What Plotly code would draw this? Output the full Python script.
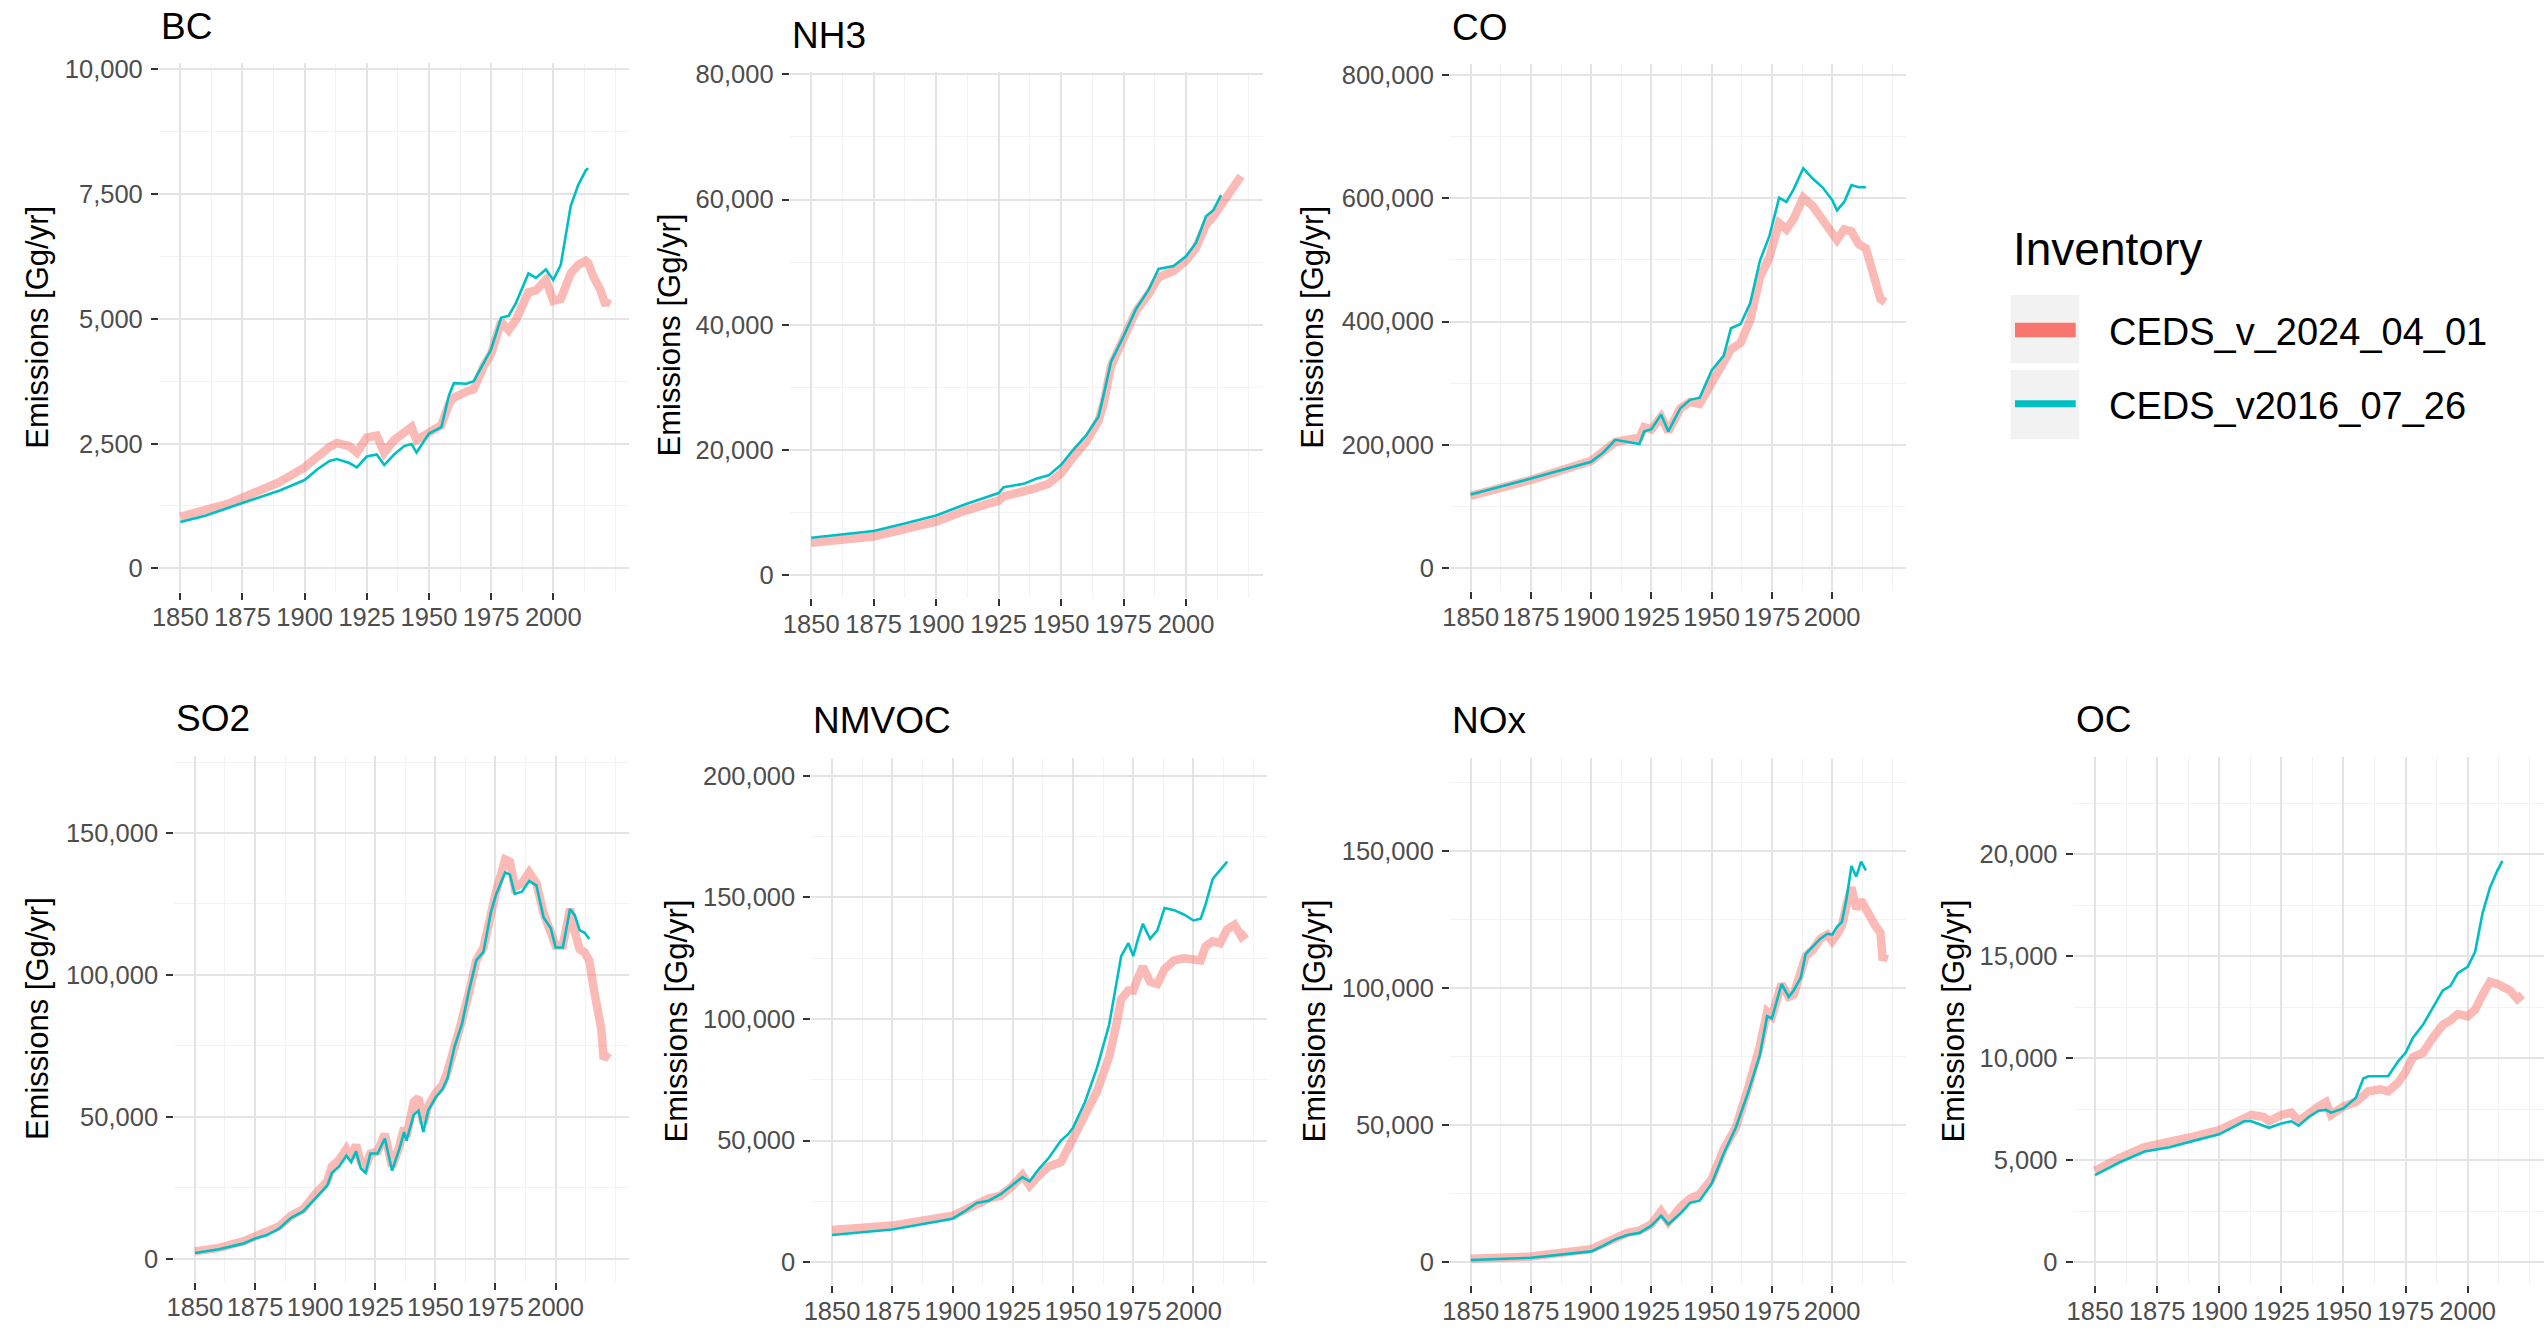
import plotly.graph_objects as go

W, H = 2547, 1333

SERIES = ["CEDS_v_2024_04_01", "CEDS_v2016_07_26"]
LEGEND_TITLE = "Inventory"
Y_TITLE = "Emissions [Gg/yr]"
X_TICKS = [1850, 1875, 1900, 1925, 1950, 1975, 2000]
X_MINOR = [1862.5, 1887.5, 1912.5, 1937.5, 1962.5, 1987.5, 2012.5, 2025]

# ---------------- data ----------------
BC_YEARS = [1850, 1860, 1870, 1880, 1890, 1900, 1905, 1910, 1913, 1918, 1921, 1925, 1929, 1932,
            1936, 1940, 1943, 1945, 1950, 1955, 1958, 1960, 1965, 1968, 1972, 1975, 1979, 1982,
            1985, 1990, 1993, 1997, 2000, 2003, 2007, 2010, 2013, 2014, 2016, 2019, 2021, 2022]
BC_NEW = [1030, 1160, 1310, 1520, 1730, 2025, 2240, 2430, 2510, 2450, 2320, 2620, 2660, 2320,
          2570, 2700, 2830, 2570, 2740, 2870, 3290, 3420, 3540, 3590, 4050, 4300, 4940, 4770,
          4980, 5530, 5570, 5780, 5360, 5400, 5910, 6080, 6160, 6120, 5860, 5570, 5270, 5400]
BC_OLD = [930, 1055, 1225, 1390, 1560, 1770, 1980, 2150, 2190, 2110, 2025, 2240, 2280, 2070,
          2280, 2450, 2490, 2320, 2700, 2830, 3460, 3710, 3700, 3750, 4130, 4390, 5020, 5060,
          5320, 5910, 5820, 5990, 5780, 6080, 7260, 7680, 7970, 8020]
BC_TICKS = [0, 2500, 5000, 7500, 10000]

NH3_YEARS = [1850, 1875, 1887, 1900, 1912, 1925, 1927, 1935, 1940, 1945, 1950, 1955, 1960, 1965,
             1967, 1970, 1975, 1980, 1985, 1989, 1995, 2000, 2004, 2008, 2011, 2014, 2018, 2022]
NH3_NEW = [5180, 6190, 7340, 8550, 10360, 11910, 12580, 13260, 13930, 14600, 16290, 18980, 21330,
           24700, 27390, 33450, 37480, 42190, 44890, 47580, 48590, 50270, 52290, 55990, 57330,
           59020, 61370, 63730]
NH3_OLD = [5990, 7070, 8210, 9560, 11370, 13120, 14060, 14600, 15410, 15950, 17630, 20120, 22340,
           25370, 28730, 34120, 38160, 42530, 45560, 48920, 49390, 50940, 53090, 57330, 58340,
           60700]
NH3_TICKS = [0, 20000, 40000, 60000, 80000]

CO_YEARS = [1850, 1875, 1900, 1905, 1910, 1915, 1920, 1922, 1925, 1929, 1932, 1937, 1941, 1945,
            1950, 1955, 1958, 1962, 1966, 1970, 1974, 1978, 1981, 1984, 1988, 1992, 1996, 2000,
            2002, 2005, 2008, 2011, 2014, 2017, 2020, 2022]
CO_NEW = [117400, 143300, 174100, 187700, 204800, 208200, 211600, 228700, 225300, 245700, 221800,
          259400, 269600, 266200, 300300, 334500, 354900, 365200, 402700, 471000, 505100, 559700,
          549500, 566500, 600700, 587000, 566500, 542700, 532400, 549500, 546100, 525600, 518800,
          477800, 436900, 431400]
CO_OLD = [119500, 145400, 172700, 187700, 208200, 204800, 201400, 221800, 225300, 249100, 221800,
          259400, 273000, 276500, 320800, 344700, 389100, 395900, 430000, 498300, 539200, 600700,
          593900, 614300, 648500, 631400, 617700, 597300, 580200, 593900, 621200, 617700, 617700]
CO_TICKS = [0, 200000, 400000, 600000, 800000]

SO2_YEARS = [1850, 1860, 1870, 1875, 1880, 1885, 1890, 1895, 1900, 1905, 1907, 1910, 1913, 1915,
             1917, 1919, 1921, 1923, 1926, 1929, 1932, 1935, 1937, 1938, 1941, 1943, 1945, 1947,
             1950, 1953, 1955, 1958, 1961, 1964, 1967, 1970, 1973, 1975, 1979, 1981, 1983, 1986,
             1989, 1992, 1995, 1998, 2000, 2003, 2006, 2008, 2010, 2012, 2014, 2016, 2018, 2019,
             2020, 2022]
SO2_NEW = [2570, 3780, 6050, 7860, 9070, 11340, 15120, 17390, 22680, 27220, 32510, 34780, 38560,
           35540, 40070, 34020, 32510, 37050, 37800, 43850, 32510, 39320, 46120, 43100, 55190,
           56700, 47630, 53680, 58220, 61240, 65780, 76360, 83920, 93750, 105090, 109630, 123240,
           128530, 140630, 139870, 130800, 132310, 136090, 132310, 121730, 115680, 110390, 110390,
           123240, 115000, 109000, 108000, 105000, 94510, 83920, 80900, 70310, 72580]
SO2_OLD = [1970, 3330, 5290, 7110, 8300, 10580, 14370, 16630, 21170, 25710, 30240, 32510, 36290,
           34020, 37800, 31750, 30240, 37050, 37050, 42340, 31000, 38560, 44610, 41580, 50660,
           52170, 44610, 52170, 56700, 59730, 63510, 74850, 82410, 94510, 105090, 108120, 121730,
           127770, 136090, 135330, 128530, 129290, 133070, 131560, 120220, 116440, 109630, 109630,
           123240, 120970, 115680, 114920, 112660]
SO2_TICKS = [0, 50000, 100000, 150000]

NMVOC_YEARS = [1850, 1875, 1900, 1905, 1910, 1915, 1920, 1925, 1929, 1932, 1936, 1940, 1945, 1948,
               1950, 1955, 1960, 1965, 1968, 1970, 1973, 1975, 1977, 1979, 1982, 1985, 1988, 1992,
               1996, 2000, 2003, 2005, 2008, 2011, 2014, 2017, 2020, 2022]
NMVOC_NEW = [13240, 15000, 19060, 21710, 24360, 26130, 27360, 31420, 35830, 31420, 35830, 39360,
             41130, 46430, 50840, 60550, 70260, 84380, 97620, 108210, 111740, 111740, 117030,
             121450, 115270, 114380, 120560, 124090, 124970, 124090, 124090, 129740, 132030,
             131150, 136800, 138750, 133810, 135220]
NMVOC_OLD = [11120, 13420, 17830, 20830, 24360, 25240, 27890, 31950, 34950, 33190, 38480, 42890,
             49960, 52600, 55250, 65840, 79960, 97620, 115270, 125860, 131160, 125860, 132920,
             139100, 132920, 136450, 145630, 144750, 142980, 140510, 141220, 147040, 157630,
             161160, 164690]
NMVOC_TICKS = [0, 50000, 100000, 150000, 200000]

NOX_YEARS = [1850, 1875, 1900, 1905, 1910, 1915, 1920, 1925, 1929, 1932, 1937, 1941, 1945, 1950,
             1955, 1960, 1965, 1970, 1973, 1975, 1979, 1982, 1984, 1987, 1989, 1992, 1995, 1998,
             2000, 2002, 2004, 2006, 2008, 2010, 2012, 2014, 2016, 2018, 2020, 2021, 2022]
NOX_NEW = [1250, 2040, 4700, 6730, 9080, 10650, 11430, 13780, 18480, 14560, 20040, 23170, 24740,
           30220, 41180, 49010, 63100, 78750, 91280, 89710, 101460, 96760, 97540, 105370, 111630,
           113980, 117890, 119460, 117110, 119460, 122590, 130420, 136680, 128850, 131990, 128850,
           124940, 122590, 120240, 110060, 112410]
NOX_OLD = [780, 1570, 3910, 5950, 8300, 9860, 10650, 13310, 16910, 13780, 17690, 21610, 22390,
           28650, 39610, 49010, 61530, 75620, 89710, 88930, 101460, 96760, 99100, 103800, 112410,
           115080, 117890, 119770, 119460, 122280, 124000, 132770, 144510, 140600, 146080, 142950]
NOX_TICKS = [0, 50000, 100000, 150000]

OC_YEARS = [1850, 1860, 1870, 1875, 1880, 1890, 1900, 1905, 1910, 1913, 1918, 1920, 1925, 1929,
            1932, 1936, 1940, 1943, 1945, 1950, 1955, 1958, 1960, 1965, 1968, 1972, 1975, 1978,
            1982, 1986, 1990, 1993, 1996, 2000, 2003, 2006, 2009, 2012, 2014, 2017, 2020, 2022]
OC_NEW = [4480, 5120, 5640, 5750, 5850, 6170, 6480, 6800, 7120, 7220, 7120, 6910, 7220, 7330,
          6910, 7330, 7640, 7850, 7220, 7640, 7850, 8170, 8380, 8480, 8380, 8800, 9330, 10060,
          10270, 11010, 11640, 11850, 12170, 12060, 12380, 13120, 13750, 13640, 13540, 13330,
          12910, 13120]
OC_OLD = [4270, 4900, 5430, 5540, 5640, 5960, 6270, 6590, 6910, 6910, 6690, 6590, 6800, 6910,
          6690, 7120, 7430, 7470, 7330, 7540, 8060, 9010, 9120, 9120, 9120, 9850, 10270, 11010,
          11640, 12480, 13330, 13540, 14170, 14480, 15220, 17120, 18380, 19220, 19680]
OC_TICKS = [0, 5000, 10000, 15000, 20000]

# ---------------- layout (pixel geometry of each panel) ----------------
X_RANGE = [1841.4, 2030.6]
PANELS = [
    dict(name="BC", years=BC_YEARS, new=BC_NEW, old=BC_OLD, ticks=BC_TICKS,
         yr=[-466, 10118], px=(158.9, 629.4), py=(63.4, 591.6), tx=37.3),
    dict(name="NH3", years=NH3_YEARS, new=NH3_NEW, old=NH3_OLD, ticks=NH3_TICKS,
         yr=[-3696, 80300], px=(789.7, 1262.5), py=(72.4, 598.4), tx=669.0),
    dict(name="CO", years=CO_YEARS, new=CO_NEW, old=CO_OLD, ticks=CO_TICKS,
         yr=[-37613, 817110], px=(1450.0, 1905.9), py=(64.3, 591.4), tx=1313.0),
    dict(name="SO2", years=SO2_YEARS, new=SO2_NEW, old=SO2_OLD, ticks=SO2_TICKS,
         yr=[-8157, 177194], px=(174.2, 629.2), py=(755.8, 1281.8), tx=37.3),
    dict(name="NMVOC", years=NMVOC_YEARS, new=NMVOC_NEW, old=NMVOC_OLD, ticks=NMVOC_TICKS,
         yr=[-9552, 207509], px=(811.3, 1267.2), py=(757.6, 1285.3), tx=676.0),
    dict(name="NOx", years=NOX_YEARS, new=NOX_NEW, old=NOX_OLD, ticks=NOX_TICKS,
         yr=[-8473, 184061], px=(1450.0, 1905.9), py=(757.6, 1285.3), tx=1314.0),
    dict(name="OC", years=OC_YEARS, new=OC_NEW, old=OC_OLD, ticks=OC_TICKS,
         yr=[-1141, 24797], px=(2073.6, 2543.7), py=(756.6, 1285.4), tx=1952.6),
]

PINK = "#F8766D"
PINK_A = "rgba(248,118,109,0.5)"
CYAN = "#00BFC4"
FONT = "Liberation Sans, Arial, Helvetica, sans-serif"
GRID_MAJ = "#E4E4E4"
GRID_MIN = "#F3F3F3"
TICK_COL = "#4D4D4D"


def fx(p):
    return p / W


def fy(p):
    return 1 - p / H


fig = go.Figure()
layout = dict(
    template="none",
    width=W, height=H, margin=dict(l=0, r=0, t=0, b=0, pad=0), autosize=False,
    paper_bgcolor="white", plot_bgcolor="white", showlegend=False,
    font=dict(family=FONT, color="black"),
)
annotations = []
shapes = []

for i, p in enumerate(PANELS, start=1):
    sfx = "" if i == 1 else str(i)
    xa, ya = "x" + sfx, "y" + sfx
    n_old = len(p["old"])
    fig.add_trace(go.Scatter(x=p["years"], y=p["new"], mode="lines", name=SERIES[0],
                             line=dict(color=PINK_A, width=8.5), xaxis=xa, yaxis=ya,
                             hoverinfo="skip"))
    fig.add_trace(go.Scatter(x=p["years"][:n_old], y=p["old"], mode="lines", name=SERIES[1],
                             line=dict(color=CYAN, width=2.6), xaxis=xa, yaxis=ya,
                             hoverinfo="skip"))
    ticks = p["ticks"]
    step = ticks[1] - ticks[0]
    yminor = [t + step / 2 for t in ticks if t + step / 2 < p["yr"][1]]
    layout["xaxis" + sfx] = dict(
        domain=[fx(p["px"][0]), fx(p["px"][1])], anchor=ya, range=X_RANGE, automargin=False,
        tickmode="array", tickvals=X_TICKS, ticktext=[str(v) for v in X_TICKS],
        showgrid=True, gridcolor=GRID_MAJ, gridwidth=2.2, zeroline=False, showline=False,
        ticks="outside", ticklen=7, tickwidth=2.2, tickcolor="#333333",
        tickfont=dict(size=25.5, color=TICK_COL, family=FONT), ticklabelstandoff=-4,
        minor=dict(tickmode="array", tickvals=X_MINOR, showgrid=True, gridcolor=GRID_MIN,
                   gridwidth=1.2, ticks=""),
        fixedrange=True,
    )
    layout["yaxis" + sfx] = dict(
        domain=[fy(p["py"][1]), fy(p["py"][0])], anchor=xa, range=p["yr"], automargin=False,
        tickmode="array", tickvals=ticks, ticktext=[f"{v:,}" for v in ticks],
        showgrid=True, gridcolor=GRID_MAJ, gridwidth=2.2, zeroline=False, showline=False,
        ticks="outside", ticklen=7, tickwidth=2.2, tickcolor="#333333",
        tickfont=dict(size=25.5, color=TICK_COL, family=FONT), ticklabelstandoff=3,
        minor=dict(tickmode="array", tickvals=yminor, showgrid=True, gridcolor=GRID_MIN,
                   gridwidth=1.2, ticks=""),
        fixedrange=True,
    )
    # panel title
    annotations.append(dict(text=p["name"], xref="paper", yref="paper",
                            x=fx(p["px"][0]), y=fy(p["py"][0] - 37.0), xanchor="left",
                            yanchor="middle", showarrow=False,
                            font=dict(size=37, color="black", family=FONT)))
    # y-axis title
    annotations.append(dict(text=Y_TITLE, xref="paper", yref="paper",
                            x=fx(p["tx"]), y=fy((p["py"][0] + p["py"][1]) / 2),
                            xanchor="center", yanchor="middle", textangle=-90,
                            showarrow=False, font=dict(size=31, color="black", family=FONT)))

# ---------------- legend (drawn by hand to match the ggplot key boxes) ----------------
KEY_X = (2010.7, 2079.3)
KEY_Y = [(295.0, 363.3), (370.0, 439.3)]
KEY_LINE = [(330.0, 14.7, PINK), (403.7, 7.0, CYAN)]
LABEL_Y = [332.0, 406.0]
for (y0, y1), (ly, lw, col), ty, name in zip(KEY_Y, KEY_LINE, LABEL_Y, SERIES):
    shapes.append(dict(type="rect", xref="paper", yref="paper",
                       x0=fx(KEY_X[0]), x1=fx(KEY_X[1]), y0=fy(y1), y1=fy(y0),
                       fillcolor="#F2F2F2", line=dict(width=0), layer="below"))
    shapes.append(dict(type="line", xref="paper", yref="paper",
                       x0=fx(2015.0), x1=fx(2075.7), y0=fy(ly), y1=fy(ly),
                       line=dict(color=col, width=lw)))
    annotations.append(dict(text=name, xref="paper", yref="paper", x=fx(2107.3), y=fy(ty),
                            xanchor="left", yanchor="middle", showarrow=False,
                            font=dict(size=38, color="black", family=FONT)))
annotations.append(dict(text=LEGEND_TITLE, xref="paper", yref="paper", x=fx(2010.7),
                        y=fy(249.5), xanchor="left", yanchor="middle", showarrow=False,
                        font=dict(size=46, color="black", family=FONT)))

layout["annotations"] = annotations
layout["shapes"] = shapes
fig.update_layout(**layout)
fig.write_html("out.html", config={"displayModeBar": False})
